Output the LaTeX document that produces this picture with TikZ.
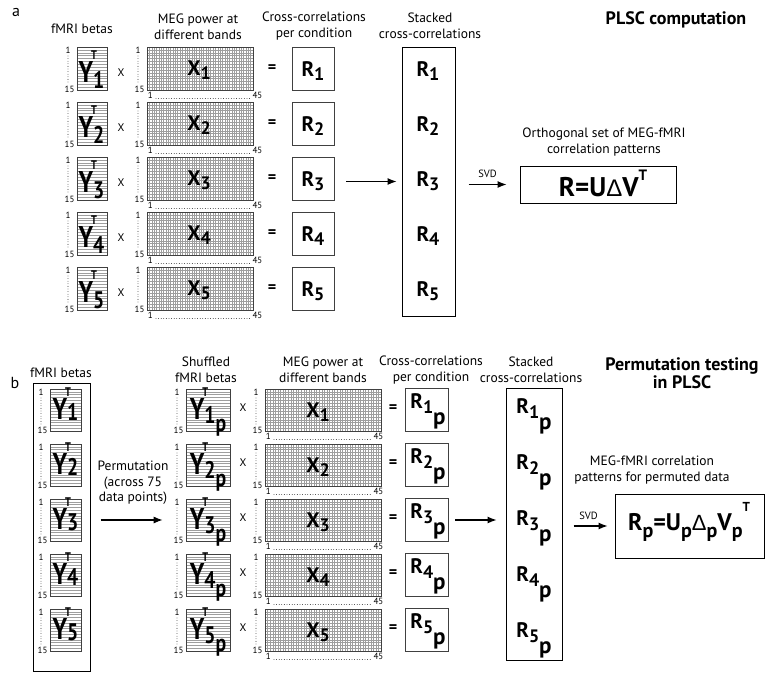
\documentclass[tikz,border=0pt]{standalone}
\usepackage{fontspec}
\setmainfont{PT Sans}
\newfontfamily\deltafont{Liberation Sans}
\usetikzlibrary{arrows.meta,calc}

% matrix symbols
\newcommand{\ysym}[3]{\bfseries\scalebox{0.82}[1]{\fontsize{30}{30}\selectfont Y\makebox[0pt][l]{\kern-2.5pt\raisebox{22.5pt}{\fontsize{12.5}{12.5}\selectfont T}}\raisebox{-#3}{\fontsize{24}{24}\selectfont #1#2}}}
\newcommand{\xsym}[2]{\bfseries\fontsize{21}{21}\selectfont #1\raisebox{-4pt}{\fontsize{18}{18}\selectfont #2}}
\newcommand{\rpsym}[1]{\bfseries\fontsize{21}{21}\selectfont R\raisebox{-5pt}{\fontsize{18}{18}\selectfont #1\raisebox{-11pt}{\fontsize{23}{23}\selectfont p}}}
\newcommand{\psub}{\raisebox{-7pt}{\fontsize{20}{20}\selectfont p}}

% tick labels beside a matrix
\newcommand{\rowaxis}[1]{%
  \node[tick, anchor=north east] (#1t) at ([xshift=-6pt]#1.north west) {1};
  \node[tick, anchor=south east] (#1b) at ([xshift=-2pt,yshift=-2pt]#1.south west) {15};
  \draw[dots] ([yshift=-2.5pt]#1t.south) -- ([yshift=2pt]#1t.south |- #1b.north);}
\newcommand{\colaxis}[2]{%
  \node[tick, anchor=north west] (#1l) at ([xshift=1pt,yshift=-2pt]#1.south west) {1};
  \node[tick, anchor=north west] (#1r) at ([xshift=#2,yshift=-2pt]#1.south east) {45};
  \draw[dots] ([xshift=3pt,yshift=0.5pt]#1l.base east) -- ([xshift=-2pt,yshift=0.5pt]#1r.base west);}

\begin{document}
\begin{tikzpicture}[x=1pt, y=-1pt, >={Latex[length=9pt,width=7pt]},
  matframe/.style={draw=black!75, line width=0.7pt, inner sep=0pt},
  gridline/.style={draw=black!38, line width=0.3pt},
  ymat/.style 2 args={matframe, minimum width=#1, minimum height=#2,
    path picture={
      \foreach \k in {1,...,14}
        \draw[gridline] ($(path picture bounding box.north west)!\k/15!(path picture bounding box.south west)$)
          -- ($(path picture bounding box.north east)!\k/15!(path picture bounding box.south east)$);
    }},
  xmat/.style 2 args={matframe, minimum width=#1, minimum height=#2,
    path picture={
      \foreach \k in {1,...,44}
        \draw[gridline] ($(path picture bounding box.north west)!\k/45!(path picture bounding box.north east)$)
          -- ($(path picture bounding box.south west)!\k/45!(path picture bounding box.south east)$);
      \foreach \k in {1,...,14}
        \draw[gridline] ($(path picture bounding box.north west)!\k/15!(path picture bounding box.south west)$)
          -- ($(path picture bounding box.north east)!\k/15!(path picture bounding box.south east)$);
    }},
  rbox/.style={matframe, minimum width=42pt, minimum height=43pt},
  bigbox/.style={draw=black, line width=1pt, inner sep=0pt},
  sym/.style={inner sep=0pt, anchor=base},
  tick/.style={font=\fontsize{9}{9}\selectfont, inner sep=0pt},
  dots/.style={line width=0.8pt, line cap=round, dash pattern=on 0pt off 2.6pt},
  op/.style={inner sep=0pt, font=\fontsize{11}{11}\selectfont},
  eqop/.style={inner sep=0pt, font=\bfseries\fontsize{16}{16}\selectfont},
  head/.style={font=\fontsize{13.5}{15.5}\selectfont, align=center},
  title/.style={font=\bfseries\fontsize{18}{16}\selectfont, align=center},
  flow/.style={->, line width=1.1pt},
  svd/.style={font=\fontsize{10.5}{10.5}\selectfont, inner sep=0pt, above=6pt}]
\useasboundingbox (0,0) rectangle (766,673);

% ---------- panel a ----------
\node[font=\fontsize{16}{16}\selectfont] (pa) at (16,12) {a};
\node[head] (ha1) at (82,29) {fMRI betas};
\node[head] (ha2) at (198,27) {MEG power at\\different bands};
\node[head] (ha3) at (314,26) {Cross-correlations\\per condition};
\node[head] (ha4) at (430,26) {Stacked\\cross-correlations};
\node[title] (ta) at (676,20) {PLSC computation};

\foreach \i in {1,...,5} {
  \pgfmathsetmacro{\ty}{47+55*(\i-1)}
  \node[ymat={30pt}{43pt}] (ya\i) at (92,\ty+21.5) {};
  \node[sym] (yal\i) at (91.5,\ty+35) {\ysym{\i}{}{6pt}};
  \rowaxis{ya\i}
  \node[op] (ma\i) at (121,\ty+25.5) {X};
  \node[xmat={106pt}{43pt}] (xa\i) at (200,\ty+21.5) {};
  \node[sym] (xal\i) at (199,\ty+28) {\xsym{X}{\i}};
  \rowaxis{xa\i}
  \colaxis{xa\i}{-1pt}
  \node[eqop] (qa\i) at (272,\ty+21.5) {=};
  \node[rbox] (ra\i) at (313,\ty+21.5) {};
  \node[sym] (ral\i) at (313,\ty+29) {\xsym{R}{\i}};
  \node[sym] (sal\i) at (428,{76.5+55*(\i-1)}) {\xsym{R}{\i}};
}
\node[bigbox, minimum width=53pt, minimum height=269pt] (sa) at (428.5,181.5) {};
\draw[flow, shorten <=12pt, shorten >=5pt] ([yshift=-3pt]ra3.east) -- ([yshift=-3pt]ra3.east -| sa.west);

\node[head] (oa) at (604,142) {Orthogonal set of MEG-fMRI\\correlation patterns};
\node[bigbox, minimum width=156pt, minimum height=37pt] (deca) at (598,184.5) {};
\node[sym] (decal) at (603,196) {\bfseries\fontsize{27}{27}\selectfont R=U{\mdseries\deltafont\fontsize{24}{24}\selectfont Δ}V\raisebox{16pt}{\fontsize{15}{15}\selectfont T}};
\draw[flow, shorten <=13pt, shorten >=13pt] (sa.east |- deca.west) -- (deca.west) node[midway, svd] (svda) {SVD};

% ---------- panel b ----------
\node[font=\fontsize{16}{16}\selectfont] (pb) at (15,383) {b};
\node[head] (hb1) at (61,373) {fMRI betas};
\node[head] (hb2) at (206,370) {Shuffled\\fMRI betas};
\node[head] (hb3) at (323,370) {MEG power at\\different bands};
\node[head] (hb4) at (431,370) {Cross-correlations\\per condition};
\node[head] (hb5) at (531,370) {Stacked\\cross-correlations};
\node[title] (tb) at (682,373) {Permutation testing\\in PLSC};

\node[bigbox, minimum width=57pt, minimum height=288pt] (lb) at (61.5,527) {};
\foreach \i in {1,...,5} {
  \pgfmathsetmacro{\ty}{389+55*(\i-1)}
  \node[ymat={31pt}{42pt}] (yb\i) at (65.5,\ty+21) {};
  \node[sym] (ybl\i) at (65.5,\ty+30) {\ysym{\i}{}{1pt}};
  \rowaxis{yb\i}
  \node[ymat={44pt}{42pt}] (ys\i) at (208,\ty+21) {};
  \node[sym] (ysl\i) at (208,\ty+30) {\ysym{\i}{\raisebox{-8pt}{p}}{4pt}};
  \rowaxis{ys\i}
  \node[op] (mb\i) at (243,\ty+18.5) {X};
  \node[xmat={116pt}{42pt}] (xb\i) at (323,\ty+21) {};
  \node[sym] (xbl\i) at (318,\ty+28) {\xsym{X}{\i}};
  \rowaxis{xb\i}
  \colaxis{xb\i}{-8pt}
  \node[eqop] (qb\i) at (393,\ty+20) {=};
  \node[rbox, minimum width=43pt] (rb\i) at (426.5,\ty+21) {};
  \node[sym] (rbl\i) at (428,\ty+19) {\rpsym{\i}};
  \node[sym] (sbl\i) at (534,{413+56*(\i-1)}) {\rpsym{\i}};
}
\node[bigbox, minimum width=56pt, minimum height=272pt] (sb) at (534,524) {};

\node[head] (perm) at (133,483) {Permutation\\(across 75\\data points)};
\draw[flow, shorten <=10pt, shorten >=23pt] (lb.east |- ys3) -- (ys3.west);
\draw[flow, shorten <=7pt, shorten >=9pt] (rb3.east) -- (rb3.east -| sb.west);

\node[head] (ob) at (652,470) {MEG-fMRI correlation\\patterns for permuted data};
\node[bigbox, minimum width=149pt, minimum height=64pt] (decb) at (689.5,526) {};
\node[sym] (decbl) at (689,530) {\bfseries\fontsize{24}{24}\selectfont R\psub=U\psub{\mdseries\deltafont\fontsize{22}{22}\selectfont Δ}\psub V\psub\raisebox{19pt}{\fontsize{13}{13}\selectfont T}};
\draw[flow, shorten <=11pt, shorten >=7pt] (sb.east |- decb.west) -- (decb.west) node[midway, svd] (svdb) {SVD};
\end{tikzpicture}
\end{document}
